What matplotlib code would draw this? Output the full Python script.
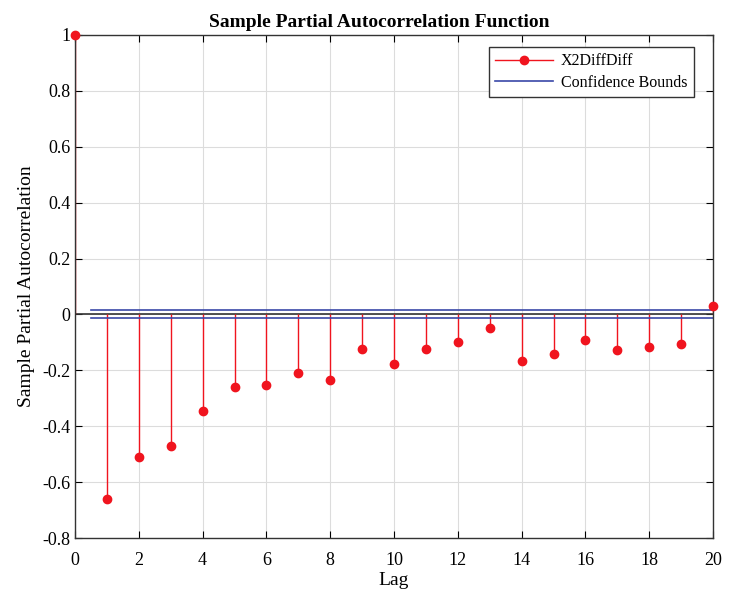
import matplotlib
matplotlib.use("Agg")
import matplotlib.pyplot as plt
import numpy as np
from matplotlib.lines import Line2D

plt.rcParams['font.family'] = ['Liberation Serif', 'DejaVu Serif']

lags = list(range(0, 21))
pacf = [1.0, -0.662, -0.51, -0.47, -0.347, -0.258, -0.254, -0.21, -0.233, -0.125,
        -0.179, -0.125, -0.10, -0.047, -0.165, -0.14, -0.093, -0.129, -0.118, -0.107,
        0.029]
bound = 0.0143
bound_x = [0.5, 20]

fig = plt.figure(figsize=(7.47, 5.92), dpi=100)
ax = fig.add_axes([0.1004, 0.0912, 0.8541, 0.8498])

ax.grid(True, color='#dcdcdc', linewidth=0.8)
ax.set_axisbelow(True)
ax.axhline(0, color='#333333', linewidth=1.2, zorder=1)

red = '#f0141e'
blue = '#3a48a8'
ax.vlines(lags, 0, pacf, color=red, linewidth=1.0, zorder=2)
ax.plot(lags, pacf, 'o', color=red, markersize=6, zorder=4, clip_on=False)
ax.plot(bound_x, [bound, bound], color=blue, linewidth=1.2, zorder=2)
ax.plot(bound_x, [-bound, -bound], color=blue, linewidth=1.2, zorder=2)

ax.set_xlim(0, 20)
ax.set_ylim(-0.8, 1.0)
ax.set_xticks(np.arange(0, 21, 2))
ax.set_yticks(np.arange(-0.8, 1.01, 0.2))
ax.set_yticklabels(['-0.8', '-0.6', '-0.4', '-0.2', '0', '0.2', '0.4', '0.6', '0.8', '1'])
ax.tick_params(direction='in', labelsize=13, length=5, top=True, right=True,
               labeltop=False, labelright=False)
ax.tick_params(axis='x', pad=10)
for s in ax.spines.values():
    s.set_color('#333333')
    s.set_linewidth(1.0)

ax.set_title('Sample Partial Autocorrelation Function', fontsize=14,
             fontweight='bold', pad=6, x=0.477)
ax.set_xlabel('Lag', fontsize=14, labelpad=2)
ax.set_ylabel('Sample Partial Autocorrelation', fontsize=14, labelpad=5)

h1 = Line2D([0, 1], [0, 0], color=red, linewidth=1.0, marker='o',
            markevery=[1], markersize=6)
h2 = Line2D([], [], color=blue, linewidth=1.2)
leg = ax.legend([h1, h2], ['X2DiffDiff', 'Confidence Bounds'], loc='upper right',
                bbox_to_anchor=(0.97, 0.976), fontsize=11.5, fancybox=False,
                edgecolor='#333333', framealpha=1, handlelength=3.6,
                borderpad=0.4, labelspacing=0.35, handletextpad=0.5,
                borderaxespad=0)
leg.get_frame().set_linewidth(1.0)

fig.savefig('out.png', dpi=100)
